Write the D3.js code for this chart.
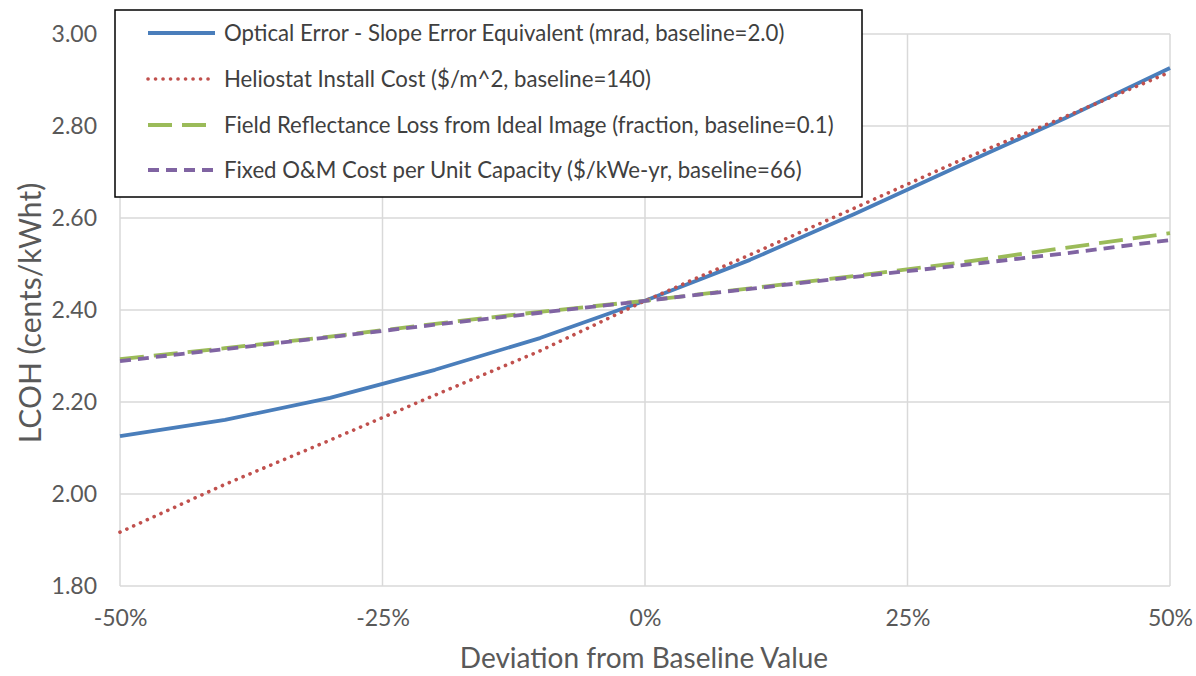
<!DOCTYPE html>
<html>
<head>
<meta charset="utf-8">
<script src="https://cdn.jsdelivr.net/npm/d3@7"></script>
<style>
  html, body { margin: 0; padding: 0; background: #fff; }
  svg { display: block; font-family: "Lato", "Open Sans", sans-serif; }
</style>
</head>
<body>
<svg id="chart" width="1196" height="676"></svg>
<script>
// Deviation from baseline (fraction)
const deviations = [-0.5, -0.4, -0.3, -0.2, -0.1, 0, 0.1, 0.2, 0.3, 0.4, 0.5];

// LCOH (cents/kWht) for each parameter sweep
const opticalError   = [2.126, 2.161, 2.209, 2.270, 2.339, 2.420, 2.509, 2.609, 2.714, 2.817, 2.926];
const heliostatCost  = [1.917, 2.021, 2.117, 2.215, 2.311, 2.420, 2.520, 2.622, 2.725, 2.820, 2.917];
const reflectanceLoss= [2.293, 2.317, 2.342, 2.370, 2.396, 2.420, 2.447, 2.474, 2.503, 2.535, 2.567];
const fixedOMCost    = [2.289, 2.315, 2.341, 2.368, 2.394, 2.420, 2.446, 2.472, 2.497, 2.523, 2.552];

const seriesNames = [
  "Optical Error - Slope Error Equivalent (mrad, baseline=2.0)",
  "Heliostat Install Cost ($/m^2, baseline=140)",
  "Field Reflectance Loss from Ideal Image (fraction, baseline=0.1)",
  "Fixed O&M Cost per Unit Capacity ($/kWe-yr, baseline=66)"
];

const xTicks = [-0.5, -0.25, 0, 0.25, 0.5];
const yTicks = [1.8, 2.0, 2.2, 2.4, 2.6, 2.8, 3.0];

const xTitle = "Deviation from Baseline Value";
const yTitle = "LCOH (cents/kWht)";

const styles = [
  { color: "#4a7ebb", width: 3.8, dash: null, cap: "butt" },
  { color: "#c0504d", width: 3.6, dash: "0.1,7.4", cap: "round" },
  { color: "#9bbb59", width: 3.8, dash: "24,10", cap: "butt" },
  { color: "#8064a2", width: 3.8, dash: "11,7", cap: "butt" }
];

const svg = d3.select("#chart");
const plot = { left: 120, right: 1170, top: 34, bottom: 586 };

const x = d3.scaleLinear().domain([-0.5, 0.5]).range([plot.left, plot.right]);
const y = d3.scaleLinear().domain([1.8, 3.0]).range([plot.bottom, plot.top]);

// Gridlines
const grid = svg.append("g");
grid.selectAll("line.h").data(yTicks).join("line")
  .attr("x1", plot.left).attr("x2", plot.right)
  .attr("y1", d => y(d)).attr("y2", d => y(d))
  .attr("stroke", "#d9d9d9").attr("stroke-width", 1.5);
grid.selectAll("line.v").data(xTicks).join("line")
  .attr("y1", plot.top).attr("y2", plot.bottom)
  .attr("x1", d => x(d)).attr("x2", d => x(d))
  .attr("stroke", "#d9d9d9").attr("stroke-width", 1.5);

// Axes (labels only)
const pct = d => Math.round(d * 100) + "%";
const yAxis = d3.axisLeft(y).tickValues(yTicks).tickFormat(d3.format(".2f")).tickSize(0).tickPadding(23);
const gy = svg.append("g").attr("transform", `translate(${plot.left},0)`).call(yAxis);
gy.select(".domain").remove();
gy.selectAll("text").attr("font-size", 23).attr("fill", "#595959").attr("font-family", "Lato, sans-serif");

const xAxis = d3.axisBottom(x).tickValues(xTicks).tickFormat(pct).tickSize(0).tickPadding(24);
const gx = svg.append("g").attr("transform", `translate(0,${plot.bottom})`).call(xAxis);
gx.select(".domain").remove();
gx.selectAll("text").attr("font-size", 23).attr("fill", "#595959").attr("font-family", "Lato, sans-serif");

// Axis titles
svg.append("text")
  .attr("x", (plot.left + plot.right) / 2 - 1).attr("y", 668)
  .attr("text-anchor", "middle").attr("font-size", 28).attr("fill", "#595959")
  .text(xTitle);
svg.append("text")
  .attr("transform", `translate(41,${(plot.top + plot.bottom) / 2 + 3}) rotate(-90)`)
  .attr("text-anchor", "middle").attr("font-size", 30).attr("fill", "#595959")
  .text(yTitle);

// Series lines
const allSeries = [opticalError, heliostatCost, reflectanceLoss, fixedOMCost];
const line = d3.line().x((d, i) => x(deviations[i])).y(d => y(d));
allSeries.forEach((vals, k) => {
  const s = styles[k];
  svg.append("path")
    .datum(vals)
    .attr("d", line)
    .attr("fill", "none")
    .attr("stroke", s.color)
    .attr("stroke-width", s.width)
    .attr("stroke-linecap", s.cap)
    .attr("stroke-linejoin", "round")
    .attr("stroke-dasharray", s.dash);
});

// Legend
const legend = svg.append("g");
legend.append("rect")
  .attr("x", 115).attr("y", 10).attr("width", 747).attr("height", 187)
  .attr("fill", "#fff").attr("stroke", "#000").attr("stroke-width", 1.5);
const rowY = [33, 79, 125, 170];
seriesNames.forEach((name, k) => {
  const s = styles[k];
  legend.append("line")
    .attr("x1", 148).attr("x2", 215)
    .attr("y1", rowY[k]).attr("y2", rowY[k])
    .attr("stroke", s.color).attr("stroke-width", s.width)
    .attr("stroke-linecap", s.cap)
    .attr("stroke-dasharray", s.dash);
  legend.append("text")
    .attr("x", 224).attr("y", rowY[k]).attr("dy", "0.35em")
    .attr("font-size", 22.2).attr("fill", "#404040")
    .text(name);
});
</script>
</body>
</html>
